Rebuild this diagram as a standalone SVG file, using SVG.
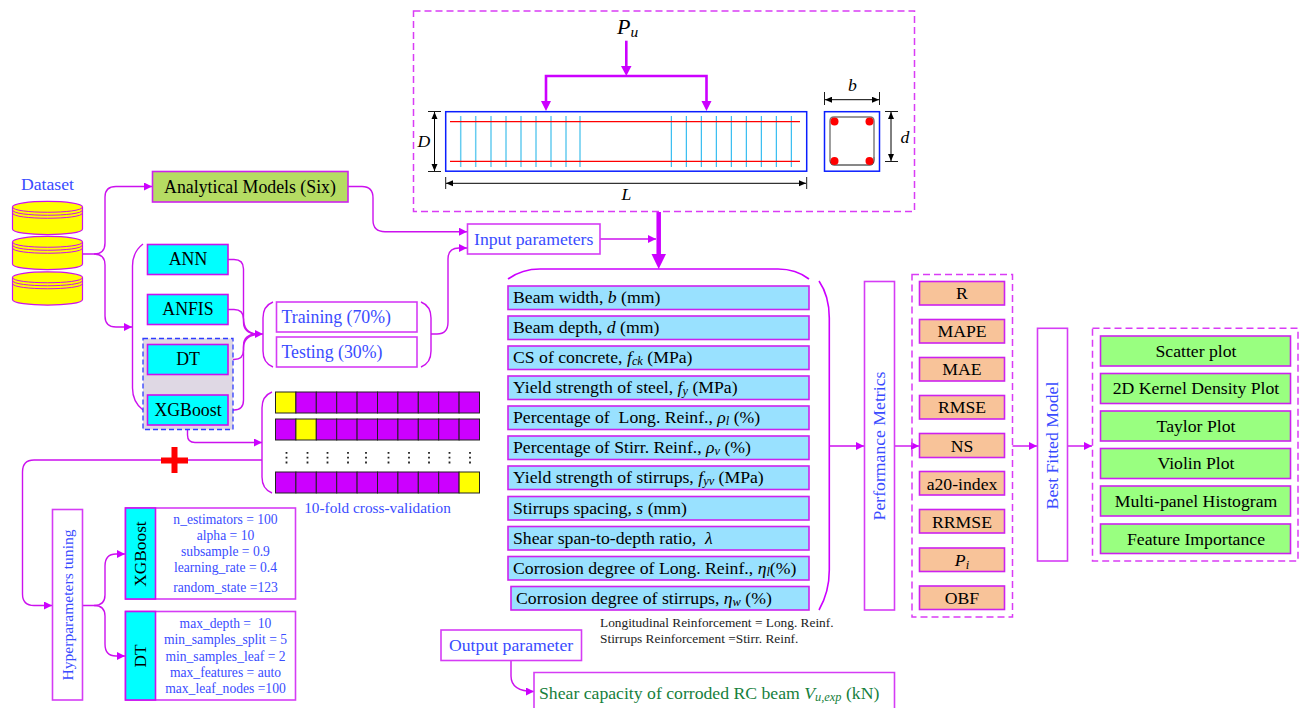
<svg xmlns="http://www.w3.org/2000/svg" width="1308" height="708" viewBox="0 0 1308 708">
<style>
text{font-family:"Liberation Serif","Times New Roman",serif;fill:#000;white-space:pre}
.m{text-anchor:middle}
.blue{fill:#3a4cff}
.i{font-style:italic}
.s{font-size:70%}
.box{fill:#fff;stroke:#d53cf5;stroke-width:1.6}
.cy{fill:#00ffff;stroke:#cc11ee;stroke-width:1.6}
.inp{fill:#99e1ff;stroke:#cc22ee;stroke-width:1.6}
.met{fill:#f8c399;stroke:#cc22ee;stroke-width:1.6}
.plt{fill:#99ff80;stroke:#cc22ee;stroke-width:1.6}
.dash{fill:none;stroke:#d93cf5;stroke-width:1.5;stroke-dasharray:7 4}
.c{fill:none;stroke:#cc11ee;stroke-width:1.4}
.cb{fill:none;stroke:#cc00ff;stroke-width:1.6}
.a{marker-end:url(#ah)}
.dim{stroke:#000;stroke-width:1;fill:none;marker-start:url(#kr);marker-end:url(#k)}
.tick{stroke:#000;stroke-width:.9;fill:none}
.load{stroke:#cc00ff;stroke-width:2.6;fill:none}
.sl{stroke:#66ccf0;stroke-width:1.5}
.sr{stroke:#0db0ee;stroke-width:1}
.red{stroke:#f00;stroke-width:1.2}
.disc{fill:#ffff00;stroke:#cc11ee;stroke-width:1.2}
.arc{fill:none;stroke:#cc11ee;stroke-width:1}
.cell{fill:#cc00ff;stroke:#222;stroke-width:1}
.yc{fill:#ffff00;stroke:#222;stroke-width:1}
.t17{font-size:17.800px}
.t16{font-size:17.700px}
.p{font-size:13.600px;text-anchor:middle;fill:#3a4cff}
.gr{fill:#16803c}
</style>
<defs>
<marker id="ah" markerUnits="userSpaceOnUse" markerWidth="9" markerHeight="9" refX="8" refY="4" orient="auto"><path d="M0 0L8 4L0 8Z" fill="#cc00ff"/></marker>
<marker id="k" markerUnits="userSpaceOnUse" markerWidth="8" markerHeight="8" refX="7" refY="3" orient="auto"><path d="M0 0L7 3L0 6Z" fill="#000"/></marker>
<marker id="kr" markerUnits="userSpaceOnUse" markerWidth="8" markerHeight="8" refX="0" refY="3" orient="auto"><path d="M7 0L0 3L7 6Z" fill="#000"/></marker>
<g id="cyl">
<path class="disc" d="M12.500 207C12.500 199.500 82.500 199.500 82.500 207V229C82.500 236.500 12.500 236.500 12.500 229Z"/>
<path class="arc" d="M12.500 207C12.500 214 82.500 214 82.500 207M12.500 210C12.500 217 82.500 217 82.500 210M12.500 213C12.500 220 82.500 220 82.500 213"/>
</g>
</defs>

<g id="connectors">
<path class="c a" d="M82.500 254H94Q105 254 105 243V197Q105 186.500 116 186.500H152"/>
<path class="c a" d="M94 254Q105 254 105 265V316Q105 327 116 327H132"/>
<path class="c" d="M143 244Q132.500 252 132.500 266V388Q132.500 402 143 410"/>
<path class="c" d="M228 259.500H234Q243.500 259.500 243.500 269V318Q243.500 334 258 334"/>
<path class="c" d="M228 309.500H234Q243.500 309.500 243.500 319V322Q243.500 334 258 334"/>
<path class="c" d="M228 359.500H234Q243.500 359.500 243.500 350V346Q243.500 334 258 334"/>
<path class="c a" d="M228 410H234Q243.500 410 243.500 400V348Q243.500 334 263 334"/>
<path class="c" d="M273 302Q263 306 263 318V351Q263 363 273 367"/>
<path class="c" d="M421 302Q431 306 431 318V351Q431 363 421 367"/>
<path class="c a" d="M431 334H437Q448 334 448 322V259Q448 248 459 248H467"/>
<path class="c a" d="M348 186.500H362Q373 186.500 373 198V220Q373 231.700 385 231.700H467"/>
<path class="c a" d="M600 239H656"/>
<path class="c a" d="M187.500 429.500V435Q187.500 442.500 195 442.500H262"/>
<path class="c" d="M272 392Q262 396 262 408V477Q262 489 272 493"/>
<path class="c a" d="M262 460H34Q22.500 460 22.500 472V594Q22.500 605.500 34 605.500H52"/>
<path class="c a" d="M82.500 605.500H94Q105 605.500 105 595V566Q105 554 116 554H125"/>
<path class="c a" d="M94 605.500Q105 605.500 105 616V644Q105 656 116 656H125"/>
<path class="c a" d="M511 660.500V676Q511 691.500 534 691.500"/>
<path class="cb" d="M508 279Q522 269 540 269H778Q796 269 809 279"/>
<path class="cb" d="M819 281Q829.300 296 829.300 318V570Q829.300 592 819 610"/>
<path class="c a" d="M829.300 446H864"/>
<path class="c a" d="M894.500 446H919"/>
<path class="c a" d="M1012.500 446H1037"/>
<path class="c a" d="M1067.500 446H1092"/>
<path stroke="#cc00ff" stroke-width="4.500" fill="none" d="M658.700 212V254"/>
<path fill="#cc00ff" d="M651.500 254H666L658.700 269Z"/>
</g>

<g id="dataset">
<text x="47.500" y="190" class="m blue t16">Dataset</text>
<use href="#cyl"/><use href="#cyl" y="35"/><use href="#cyl" y="70.500"/>
</g>
<g id="analytical"><rect x="152.500" y="171.500" width="195.500" height="30.500" fill="#b5dc63" stroke="#cc22ee" stroke-width="1.600"/><text x="250" y="192.500" class="m t17">Analytical Models (Six)</text></g>

<g id="dtgroup"><rect x="143" y="338.500" width="90" height="91" fill="#dfd8e4" stroke="#2f3cff" stroke-width="1.300" stroke-dasharray="5 3"/></g>
<g id="ann"><rect class="cy" x="147.500" y="244.500" width="80.500" height="30"/><text x="188" y="265" class="m t17">ANN</text></g>
<g id="anfis"><rect class="cy" x="147.500" y="294.500" width="80.500" height="30"/><text x="188" y="315" class="m t17">ANFIS</text></g>
<g id="dt"><rect class="cy" x="147.500" y="344.500" width="80.500" height="30"/><text x="188" y="365" class="m t17">DT</text></g>
<g id="xgboost"><rect class="cy" x="147.500" y="395" width="80.500" height="30"/><text x="188" y="416" class="m t17">XGBoost</text></g>

<g id="training"><rect class="box" x="276.500" y="302" width="140.500" height="30"/><text x="281.500" y="323" class="blue t17">Training (70%)</text></g>
<g id="testing"><rect class="box" x="276.500" y="337" width="140.500" height="30"/><text x="281.500" y="358" class="blue t17">Testing (30%)</text></g>

<g id="cv">
<rect class="yc" x="275.500" y="392" width="20.400" height="21"/><rect class="cell" x="295.900" y="392" width="20.400" height="21"/><rect class="cell" x="316.300" y="392" width="20.400" height="21"/><rect class="cell" x="336.700" y="392" width="20.400" height="21"/><rect class="cell" x="357.100" y="392" width="20.400" height="21"/><rect class="cell" x="377.500" y="392" width="20.400" height="21"/><rect class="cell" x="397.900" y="392" width="20.400" height="21"/><rect class="cell" x="418.300" y="392" width="20.400" height="21"/><rect class="cell" x="438.700" y="392" width="20.400" height="21"/><rect class="cell" x="459.100" y="392" width="20.400" height="21"/>
<rect class="cell" x="275.500" y="419" width="20.400" height="21"/><rect class="yc" x="295.900" y="419" width="20.400" height="21"/><rect class="cell" x="316.300" y="419" width="20.400" height="21"/><rect class="cell" x="336.700" y="419" width="20.400" height="21"/><rect class="cell" x="357.100" y="419" width="20.400" height="21"/><rect class="cell" x="377.500" y="419" width="20.400" height="21"/><rect class="cell" x="397.900" y="419" width="20.400" height="21"/><rect class="cell" x="418.300" y="419" width="20.400" height="21"/><rect class="cell" x="438.700" y="419" width="20.400" height="21"/><rect class="cell" x="459.100" y="419" width="20.400" height="21"/>
<rect class="cell" x="275.500" y="472" width="20.400" height="21"/><rect class="cell" x="295.900" y="472" width="20.400" height="21"/><rect class="cell" x="316.300" y="472" width="20.400" height="21"/><rect class="cell" x="336.700" y="472" width="20.400" height="21"/><rect class="cell" x="357.100" y="472" width="20.400" height="21"/><rect class="cell" x="377.500" y="472" width="20.400" height="21"/><rect class="cell" x="397.900" y="472" width="20.400" height="21"/><rect class="cell" x="418.300" y="472" width="20.400" height="21"/><rect class="cell" x="438.700" y="472" width="20.400" height="21"/><rect class="yc" x="459.100" y="472" width="20.400" height="21"/>
<path stroke="#222" stroke-width="1.800" stroke-dasharray="1.800 3" fill="none" d="M286.500 452V464M307.500 452V464M327.500 452V464M348 452V464M366 452V464M388.500 452V464M409 452V464M429 452V464M449.500 452V464M470 452V464"/>
<text x="377.500" y="513" class="m blue" font-size="15.300">10-fold cross-validation</text>
</g>
<g id="plus"><path fill="#f00" d="M171.500 447H177.500V457.500H188V463.500H177.500V473H171.500V463.500H161V457.500H171.500Z"/></g>

<g id="hyper"><rect class="box" x="52.500" y="509.500" width="30" height="190.500"/><text transform="translate(73 605) rotate(-90)" class="m blue" font-size="15.600">Hyperparameters tuning</text></g>
<g id="xgbparams">
<rect class="box" x="125.500" y="508" width="170" height="91"/><rect class="cy" x="125.500" y="508" width="30" height="91"/>
<text transform="translate(146 554) rotate(-90)" class="m" font-size="17.300">XGBoost</text>
<text x="225.500" y="524" class="p">n_estimators = 100</text><text x="225.500" y="540" class="p">alpha = 10</text><text x="225.500" y="556" class="p">subsample = 0.9</text><text x="225.500" y="572" class="p">learning_rate = 0.4</text><text x="225.500" y="592" class="p">random_state =123</text>
</g>
<g id="dtparams">
<rect class="box" x="125.500" y="611.500" width="170" height="88.500"/><rect class="cy" x="125.500" y="611.500" width="30" height="88.500"/>
<text transform="translate(146 656) rotate(-90)" class="m" font-size="17.300">DT</text>
<text x="225.500" y="628" class="p">max_depth =  10</text><text x="225.500" y="644" class="p">min_samples_split = 5</text><text x="225.500" y="661" class="p">min_samples_leaf = 2</text><text x="225.500" y="677" class="p">max_features = auto</text><text x="225.500" y="693" class="p">max_leaf_nodes =100</text>
</g>

<g id="beam">
<rect class="dash" x="413.500" y="11" width="501" height="200.500"/>
<text x="617" y="34" class="i" font-size="22">P<tspan class="s" dy="3">u</tspan></text>
<path class="load" d="M626.300 40.700V68"/>
<path class="load" d="M546 102V76H706.500V102"/>
<path fill="#cc00ff" d="M621 66H631.500L626.300 76ZM541 101H551L546 111ZM701.500 101H711.500L706.500 111Z"/>
<rect x="445.700" y="111.700" width="361" height="59.500" fill="#fff" stroke="#0a1eff" stroke-width="1.500"/>
<path class="sl" d="M460.700 116V167M475.700 116V167M491 116V167M506 116V167M521 116V167M536 116V167M551 116V167M566 116V167M580 116V167"/>
<path class="sr" d="M671.300 116V167M686.300 116V167M701.300 116V167M716.300 116V167M731.300 116V167M746.300 116V167M761.300 116V167M776.300 116V167M791.300 116V167"/>
<path class="red" d="M450 121.700H800M450 161.300H800"/>
<path class="tick" d="M428 111.500H441M428 171.500H441M445.700 177V189M806.700 177V189M824.500 92V105M879.500 92V105M885 111.500H898M885 161.500H898"/>
<path class="dim" d="M434.500 112V171"/><path class="dim" d="M446 183.300H806"/><path class="dim" d="M825 99.700H879"/><path class="dim" d="M891 112V161"/>
<text x="424" y="147" class="m i t16">D</text><text x="626.500" y="200" class="m i t16">L</text><text x="852.500" y="91" class="m i t16">b</text><text x="905" y="142.500" class="m i t16">d</text>
<rect x="824.500" y="111.700" width="55" height="59.500" fill="#fff" stroke="#0a1eff" stroke-width="1.500"/>
<path d="M834 117H870Q874 117 874 121V157M830 160V121Q830 117 834 117" fill="none" stroke="#777" stroke-width="1.400"/>
<path d="M830 160Q830 165 834 165H870Q874 165 874 160V157" fill="none" stroke="#111" stroke-width="1"/>
<circle cx="834.500" cy="121.500" r="4" fill="#f00"/><circle cx="869.500" cy="121.500" r="4" fill="#f00"/><circle cx="834.500" cy="161" r="4" fill="#f00"/><circle cx="869.500" cy="161" r="4" fill="#f00"/>
</g>

<g id="input"><rect class="box" x="467.500" y="224" width="132.500" height="30"/><text x="474" y="245" class="blue t16">Input parameters</text></g>

<g id="inputs">
<rect class="inp" x="508" y="286" width="301" height="23.500"/><text x="513" y="303" class="t16">Beam width, <tspan class="i">b</tspan> (mm)</text>
<rect class="inp" x="508" y="316" width="301" height="23.500"/><text x="513" y="333" class="t16">Beam depth, <tspan class="i">d</tspan> (mm)</text>
<rect class="inp" x="508" y="346" width="301" height="23.500"/><text x="513" y="363" class="t16">CS of concrete, <tspan class="i">f<tspan class="s" dy="2">ck</tspan></tspan><tspan dy="-2"> (MPa)</tspan></text>
<rect class="inp" x="508" y="376" width="301" height="23.500"/><text x="513" y="393" class="t16">Yield strength of steel, <tspan class="i">f<tspan class="s" dy="2">y</tspan></tspan><tspan dy="-2"> (MPa)</tspan></text>
<rect class="inp" x="508" y="406" width="301" height="23.500"/><text x="513" y="423" class="t16">Percentage of  Long. Reinf., <tspan class="i">ρ<tspan class="s" dy="2">l</tspan></tspan><tspan dy="-2"> (%)</tspan></text>
<rect class="inp" x="508" y="436" width="301" height="23.500"/><text x="513" y="453" class="t16">Percentage of Stirr. Reinf., <tspan class="i">ρ<tspan class="s" dy="2">v</tspan></tspan><tspan dy="-2"> (%)</tspan></text>
<rect class="inp" x="508" y="466" width="301" height="23.500"/><text x="513" y="483" class="t16">Yield strength of stirrups, <tspan class="i">f<tspan class="s" dy="2">yv</tspan></tspan><tspan dy="-2"> (MPa)</tspan></text>
<rect class="inp" x="508" y="496.500" width="301" height="23.500"/><text x="513" y="513.500" class="t16">Stirrups spacing, <tspan class="i">s</tspan> (mm)</text>
<rect class="inp" x="508" y="526.500" width="301" height="23.500"/><text x="513" y="544" class="t16">Shear span-to-depth ratio,  <tspan class="i">λ</tspan></text>
<rect class="inp" x="508" y="556.500" width="301" height="23.500"/><text x="513" y="574" class="t16">Corrosion degree of Long. Reinf., <tspan class="i">η<tspan class="s" dy="2">l</tspan></tspan><tspan dy="-2">(%)</tspan></text>
<rect class="inp" x="511" y="586.500" width="298" height="23.500"/><text x="516" y="604" class="t16">Corrosion degree of stirrups, <tspan class="i">η<tspan class="s" dy="2">w</tspan></tspan><tspan dy="-2"> (%)</tspan></text>
</g>
<g id="notes"><text x="600" y="627" font-size="13.350" style="fill:#222">Longitudinal Reinforcement = Long. Reinf.</text><text x="600" y="643" font-size="13.350" style="fill:#222">Stirrups Reinforcement =Stirr. Reinf.</text></g>
<g id="output"><rect class="box" x="441" y="630" width="140.500" height="30.500"/><text x="449" y="651" class="blue t16">Output parameter</text></g>
<g id="shear"><path class="box" d="M534 708V672.500H894.500V708"/><text x="539" y="699" class="t16 gr">Shear capacity of corroded RC beam <tspan class="i gr">V<tspan class="s gr" dy="2">u,exp</tspan></tspan><tspan dy="-2" class="gr"> (kN)</tspan></text></g>

<g id="perf"><rect class="box" x="864.500" y="281.500" width="30" height="328.500"/><text transform="translate(885 446) rotate(-90)" class="m blue t16">Performance Metrics</text></g>
<rect class="dash" x="912" y="274.500" width="100.500" height="342.500"/>
<g id="m1"><rect class="met" x="919.500" y="281.500" width="85" height="23.500"/><text x="962" y="299" class="m t16">R</text></g>
<g id="m2"><rect class="met" x="919.500" y="319.500" width="85" height="23.500"/><text x="962" y="337" class="m t16">MAPE</text></g>
<g id="m3"><rect class="met" x="919.500" y="357.500" width="85" height="23.500"/><text x="962" y="375" class="m t16">MAE</text></g>
<g id="m4"><rect class="met" x="919.500" y="395.500" width="85" height="23.500"/><text x="962" y="413" class="m t16">RMSE</text></g>
<g id="m5"><rect class="met" x="919.500" y="433.500" width="85" height="24"/><text x="962" y="451.500" class="m t16">NS</text></g>
<g id="m6"><rect class="met" x="919.500" y="471.500" width="85" height="23.500"/><text x="962" y="489.500" class="m t16">a20-index</text></g>
<g id="m7"><rect class="met" x="919.500" y="509.500" width="85" height="23.500"/><text x="962" y="527.500" class="m t16">RRMSE</text></g>
<g id="m8"><rect class="met" x="919.500" y="548" width="85" height="23.500"/><text x="962" y="565.500" class="m t16 i">P<tspan class="s" dy="3">i</tspan></text></g>
<g id="m9"><rect class="met" x="919.500" y="586" width="85" height="23.500"/><text x="962" y="604" class="m t16">OBF</text></g>

<g id="best"><rect class="box" x="1037.500" y="328.300" width="30" height="232.700"/><text transform="translate(1058 445.500) rotate(-90)" class="m blue t16">Best Fitted Model</text></g>
<rect class="dash" x="1092.500" y="328.300" width="205.500" height="232.700"/>
<g id="p1"><rect class="plt" x="1100.500" y="336" width="190" height="30"/><text x="1196" y="357" class="m t16">Scatter plot</text></g>
<g id="p2"><rect class="plt" x="1100.500" y="373.500" width="190" height="30"/><text x="1196" y="394" class="m t16">2D Kernel Density Plot</text></g>
<g id="p3"><rect class="plt" x="1100.500" y="411" width="190" height="30"/><text x="1196" y="432" class="m t16">Taylor Plot</text></g>
<g id="p4"><rect class="plt" x="1100.500" y="448.500" width="190" height="30"/><text x="1196" y="469" class="m t16">Violin Plot</text></g>
<g id="p5"><rect class="plt" x="1100.500" y="486" width="190" height="30"/><text x="1196" y="507" class="m t16">Multi-panel Histogram</text></g>
<g id="p6"><rect class="plt" x="1100.500" y="524" width="190" height="29.500"/><text x="1196" y="545" class="m t16">Feature Importance</text></g>
</svg>
